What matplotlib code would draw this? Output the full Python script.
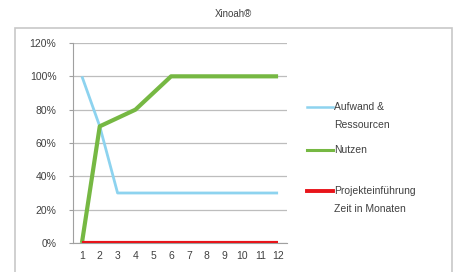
import matplotlib.pyplot as plt
from matplotlib.patches import Rectangle
from matplotlib.lines import Line2D

months = list(range(1, 13))
aufwand = [1.00, 0.70, 0.30, 0.30, 0.30, 0.30, 0.30, 0.30, 0.30, 0.30, 0.30, 0.30]
nutzen = [0.00, 0.70, 0.75, 0.80, 0.90, 1.00, 1.00, 1.00, 1.00, 1.00, 1.00, 1.00]
projekt = [0.0] * 12
yticks = [0, 0.2, 0.4, 0.6, 0.8, 1.0, 1.2]

labels = ['Aufwand &\nRessourcen', 'Nutzen', 'Projekteinführung\nZeit in Monaten']
colors = ['#8dd3ef', '#76b843', '#e8141a']
widths = [2, 3, 3]

plt.rcParams['font.family'] = ['Liberation Sans', 'DejaVu Sans']

W, H = 459, 272
fig = plt.figure(figsize=(W / 100, H / 100), dpi=100)
fig.patch.set_facecolor('white')

# outer chart frame
fig.patches.append(Rectangle((15 / W, -0.05), 437 / W, 1 - 28 / H + 0.05,
                             transform=fig.transFigure, fill=False,
                             edgecolor='#c8c8c8', linewidth=1.2))

ax = fig.add_axes([73 / W, 1 - 243 / H, 214 / W, 200 / H])

x = list(range(len(months)))
for series, c, lw, z in zip([aufwand, nutzen, projekt], colors, widths, [3, 4, 5]):
    ax.plot(x, series, color=c, linewidth=lw, zorder=z, solid_capstyle='butt')

ax.set_xlim(-0.5, len(months) - 0.5)
ax.set_ylim(0, 1.2)
ax.set_yticks(yticks)
ax.set_yticklabels(['{:d}%'.format(int(round(v * 100))) for v in yticks])
ax.set_xticks(x)
ax.set_xticklabels([str(m) for m in months])
ax.grid(axis='y', color='#bdbdbd', linewidth=0.9, zorder=0)

for s in ['top', 'right']:
    ax.spines[s].set_visible(False)
ax.spines['left'].set_color('#a0a0a0')
ax.spines['bottom'].set_color('#a0a0a0')
ax.tick_params(axis='y', labelsize=7.5, colors='#404040', length=3, color='#a0a0a0', pad=9)
ax.tick_params(axis='x', labelsize=7.5, colors='#404040', length=0, pad=6)

fig.text(233 / W, 1 - 14 / H, 'Xinoah®', ha='center', va='center',
         fontsize=7, color='#404040')

# legend drawn by hand to match the spacing of the original
leg_y = [107, 150, 191]
leg_lw = [1.8, 2.2, 2.8]
for lab, c, lw, yy in zip(labels, colors, leg_lw, leg_y):
    fig.add_artist(Line2D([307 / W, 333 / W], [1 - yy / H, 1 - yy / H],
                          transform=fig.transFigure, color=c, linewidth=lw))
    fig.text(334 / W, 1 - (yy - 5) / H, lab, ha='left', va='top',
             fontsize=7.5, color='#404040', linespacing=2.0)

fig.savefig('out.png', dpi=100)
